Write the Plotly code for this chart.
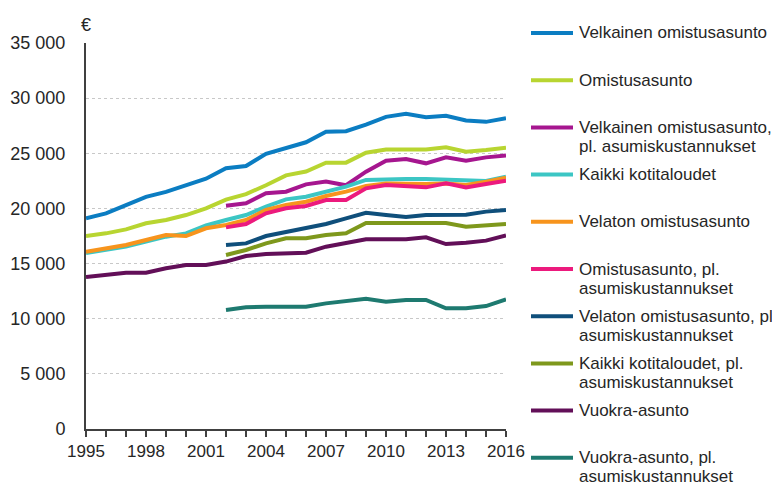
import plotly.graph_objects as go

years = list(range(1995, 2017))
years_from_2002 = list(range(2002, 2017))

velkainen = [19100, 19550, 20300, 21050, 21500, 22100, 22700, 23650, 23850, 24950,
             25500, 26000, 26950, 27000, 27600, 28300, 28580, 28270, 28400, 27970, 27850, 28180]
omistus = [17500, 17740, 18100, 18650, 18950, 19400, 20000, 20800, 21300, 22100,
           23000, 23350, 24150, 24150, 25050, 25350, 25350, 25350, 25540, 25150, 25300, 25500]
velkainen_pl = [20250, 20460, 21370, 21520, 22180, 22430, 22100, 23330, 24330, 24480,
                24090, 24630, 24330, 24630, 24810]
kaikki = [15950, 16250, 16550, 17000, 17440, 17740, 18450, 18950, 19400, 20160,
          20820, 21060, 21520, 21970, 22580, 22670, 22670, 22670, 22580, 22490, 22490, 22880]
velaton = [16080, 16380, 16680, 17140, 17590, 17500, 18200, 18500, 18950, 19860,
           20310, 20610, 21130, 21520, 22030, 22270, 22220, 22220, 22270, 22120, 22420, 22790]
omistus_pl = [18280, 18590, 19560, 20010, 20220, 20760, 20760, 21820, 22120, 21970,
              21910, 22270, 21910, 22210, 22510]
velaton_pl = [16680, 16830, 17500, 17890, 18200, 18590, 19100, 19610, 19400, 19220,
              19400, 19400, 19420, 19710, 19860]
kaikki_pl = [15780, 16230, 16830, 17290, 17290, 17590, 17740, 18680, 18680, 18680,
             18680, 18680, 18340, 18500, 18590]
vuokra = [13780, 13960, 14170, 14170, 14570, 14870, 14870, 15180, 15690, 15870,
          15930, 15990, 16530, 16890, 17200, 17200, 17200, 17380, 16770, 16890, 17080, 17550]
vuokra_pl = [10790, 11030, 11090, 11090, 11090, 11390, 11630, 11810, 11540, 11700,
             11700, 10940, 10940, 11150, 11760]

series_names = [
    "Velkainen omistusasunto",
    "Omistusasunto",
    "Velkainen omistusasunto,<br>pl. asumiskustannukset",
    "Kaikki kotitaloudet",
    "Velaton omistusasunto",
    "Omistusasunto, pl.<br>asumiskustannukset",
    "Velaton omistusasunto, pl.<br>asumiskustannukset",
    "Kaikki kotitaloudet, pl.<br>asumiskustannukset",
    "Vuokra-asunto",
    "Vuokra-asunto, pl.<br>asumiskustannukset",
]
series_values = [velkainen, omistus, velkainen_pl, kaikki, velaton,
                 omistus_pl, velaton_pl, kaikki_pl, vuokra, vuokra_pl]
series_x = [years, years, years_from_2002, years, years,
            years_from_2002, years_from_2002, years_from_2002, years, years_from_2002]
colors = ["#0b7dc2", "#b8d531", "#a6168f", "#3cc6c4", "#f7941d",
          "#ec1a7d", "#0f4f7b", "#7e981c", "#620f58", "#1e7a70"]

y_tickvals = [0, 5000, 10000, 15000, 20000, 25000, 30000, 35000]
y_ticktext = ["0", "5 000", "10 000", "15 000", "20 000", "25 000", "30 000", "35 000"]
x_labelled = [1995, 1998, 2001, 2004, 2007, 2010, 2013, 2016]

FONT = "Liberation Sans, Arial, sans-serif"
TXT = "#262626"

# page has an 8px body margin; the figure is sized so it fits the window
OFF = 8
W, H = 780 - OFF, 485 - OFF
ML, MR, MT, MB = 86 - OFF, 274, 43 - OFF, 56
PW, PH = W - ML - MR, H - MT - MB


def px_x(px):
    return (px - OFF - ML) / PW


def px_y(py):
    return (H - MB - (py - OFF)) / PH


fig = go.Figure()
for name, xs, ys, c in zip(series_names, series_x, series_values, colors):
    fig.add_trace(go.Scatter(
        x=xs, y=ys, mode="lines", name=name.replace("<br>", " "),
        line=dict(color=c, width=4), showlegend=False,
    ))

# Legend drawn at the right, entries spaced evenly as in the reference
legend_top = 33
legend_step = 47.2
line_gap = 19
for i, (name, c) in enumerate(zip(series_names, colors)):
    yc = legend_top + i * legend_step
    fig.add_shape(type="line", xref="paper", yref="paper",
                  x0=px_x(531), x1=px_x(573), y0=px_y(yc), y1=px_y(yc),
                  line=dict(color=c, width=4))
    for j, part in enumerate(name.split("<br>")):
        fig.add_annotation(
            text=part, xref="paper", yref="paper",
            x=px_x(577), y=px_y(yc + j * line_gap),
            xanchor="left", yanchor="middle", showarrow=False,
            font=dict(family=FONT, size=17, color=TXT),
        )

fig.update_layout(
    width=W, height=H,
    margin=dict(l=ML, r=MR, t=MT, b=MB, autoexpand=False),
    plot_bgcolor="white", paper_bgcolor="white",
    font=dict(family=FONT, size=17, color=TXT),
    showlegend=False,
)
fig.update_xaxes(
    range=[1995, 2016], tickvals=years,
    ticktext=[str(y) if y in x_labelled else "" for y in years],
    ticks="outside", ticklen=6, tickwidth=1.5, tickcolor="#404040",
    showline=True, linecolor="#404040", linewidth=2,
    showgrid=False, zeroline=False, automargin=False,
    tickfont=dict(family=FONT, size=17, color=TXT),
)
fig.update_yaxes(
    range=[0, 35000], tickvals=y_tickvals, ticktext=y_ticktext,
    showline=True, linecolor="#404040", linewidth=2,
    showgrid=True, gridcolor="#c8c8c8", griddash="dot", gridwidth=1,
    zeroline=False, ticks="", ticklabelstandoff=15, automargin=False,
    tickfont=dict(family=FONT, size=18, color=TXT),
)
fig.add_annotation(
    text="€", xref="paper", yref="paper", x=0, y=px_y(25),
    xanchor="center", yanchor="middle", showarrow=False,
    font=dict(family=FONT, size=18, color=TXT),
)
fig.write_html("out.html")
